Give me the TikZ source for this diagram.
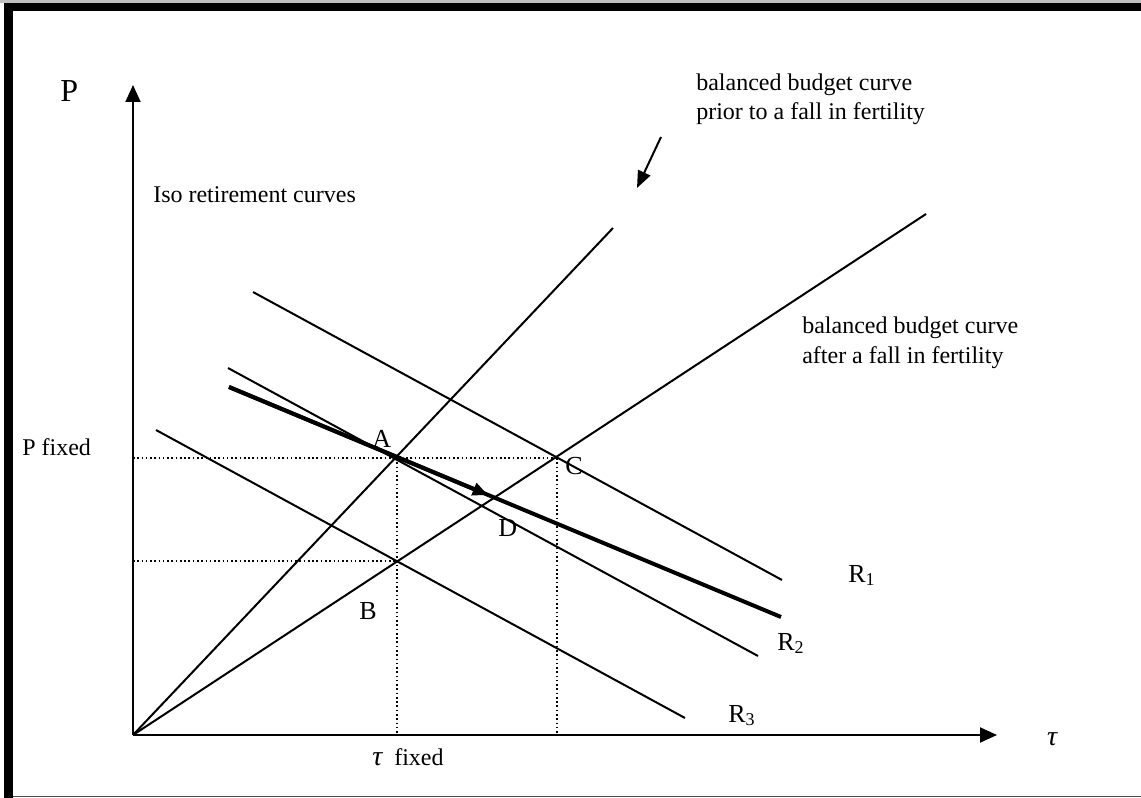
\documentclass[tikz,border=0pt]{standalone}
\usepackage{fontspec}
\setmainfont{Liberation Serif}
\usetikzlibrary{arrows.meta}
\begin{document}
\begin{tikzpicture}[x=0.75pt,y=-0.75pt,
  thinln/.style={line width=1.5pt},
  axisln/.style={line width=1.5pt,-{Triangle[length=12.75pt,width=11.25pt]}},
  thickln/.style={line width=3pt},
  dotln/.style={line width=1.2pt,dash pattern=on 1.2pt off 2pt},
  txt/.style={inner sep=0pt,anchor=base west,font=\fontsize{18}{21.75}\selectfont},
  ltr/.style={inner sep=0pt,anchor=base west,font=\fontsize{19.5}{22}\selectfont},
  big/.style={inner sep=0pt,anchor=base west,font=\fontsize{24}{26}\selectfont}
]
\useasboundingbox (0,0) rectangle (1141,798);
% frame
\fill[black!25] (0,0) rectangle (1141,3);
\fill[black] (4,3) rectangle (1141,11);
\fill[black] (4,3) rectangle (13,798);
\fill[black!70] (13,795.5) rectangle (1141,797);

% coordinates
\coordinate (O) at (133,735);
\coordinate (ytip) at (133,85);
\coordinate (xtip) at (997,735);
\coordinate (S) at (613,228);
\coordinate (F) at (926,214);
\coordinate (r1a) at (253,292); \coordinate (r1b) at (782,580);
\coordinate (r2a) at (228,368); \coordinate (r2b) at (758,656);
\coordinate (r3a) at (156,430); \coordinate (r3b) at (685,718);
\coordinate (ta) at (229,387); \coordinate (tb) at (781,617);
\coordinate (tm) at (488,495);
\coordinate (A) at (397,458);
\coordinate (C) at (557,458);
\coordinate (B) at (397,561);
\coordinate (pA) at (133,458);
\coordinate (pB) at (133,561);
\coordinate (tA) at (397,735);
\coordinate (tC) at (557,735);
\coordinate (arS) at (661,137);
\coordinate (arE) at (637,188);

% dotted guides
\draw[dotln] (pA) -- (C);
\draw[dotln] (pB) -- (B);
\draw[dotln] (A) -- (tA);
\draw[dotln] (C) -- (tC);

% axes
\draw[axisln] (O) -- (ytip);
\draw[axisln] (O) -- (xtip);

% budget curves
\draw[thinln] (O) -- (S);
\draw[thinln] (O) -- (F);

% iso retirement curves
\draw[thinln] (r1a) -- (r1b);
\draw[thinln] (r2a) -- (r2b);
\draw[thinln] (r3a) -- (r3b);

% thick path with arrow
\draw[thickln] (ta) -- (tb);
\draw[thickln,-{Triangle[length=11.5pt,width=9.5pt]}] (ta) -- (tm);

% small pointer arrow
\draw[line width=1.5pt,-{Triangle[length=12.75pt,width=10pt]}] (arS) -- (arE);

% labels
\node[big] (lP) at (60,102) {P};
\node[inner sep=0pt,font=\fontsize{21}{22}\selectfont] (ltau) at (1052,739) {\itshape τ};
\node[txt] (l1a) at (696,91) {balanced budget curve};
\node[txt] (l1b) at (696,120) {prior to a fall in fertility};
\node[txt] (liso) at (153,203) {Iso retirement curves};
\node[txt] (l2a) at (802,334) {balanced budget curve};
\node[txt] (l2b) at (802,363) {after a fall in fertility};
\node[txt] (lpf) at (22,455) {P fixed};
\node[ltr] (lA) at (372,447) {A};
\node[ltr] (lC) at (565,474) {C};
\node[ltr] (lD) at (498,536) {D};
\node[ltr] (lB) at (359,619) {B};
\node[ltr] (lR1) at (848,582) {R\raisebox{-2.5pt}{\fontsize{13.5}{13.5}\selectfont 1}};
\node[ltr] (lR2) at (777,650) {R\raisebox{-2.5pt}{\fontsize{13.5}{13.5}\selectfont 2}};
\node[ltr] (lR3) at (728,722) {R\raisebox{-2.5pt}{\fontsize{13.5}{13.5}\selectfont 3}};
\node[txt] (ltf) at (372,765) {{\fontsize{21}{22}\selectfont\itshape τ}\ \ fixed};
\end{tikzpicture}
\end{document}
